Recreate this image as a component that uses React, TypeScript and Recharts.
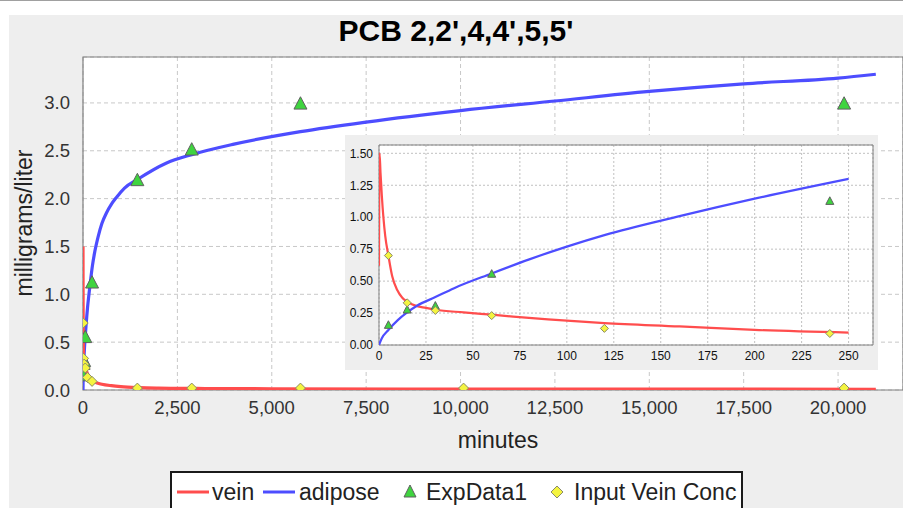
import React from "react";
import {
  CartesianGrid,
  ComposedChart,
  Line,
  ReferenceArea,
  Scatter,
  XAxis,
  YAxis,
} from "recharts";

// vein concentration (mg/L) over minutes
const veinEarlyT = [0, 0.3, 0.8, 1.5, 3.3, 5, 7, 9.7, 12.4, 15, 19, 25, 30, 45, 60, 90, 120, 160, 200, 250];
const veinEarlyV = [0.62, 1.5, 1.35, 1.17, 0.855, 0.7, 0.54, 0.43, 0.37, 0.34, 0.31, 0.29, 0.276, 0.255, 0.237, 0.2, 0.171, 0.145, 0.118, 0.097];
const veinLateT = [300, 400, 500, 750, 1000, 1500, 2000, 3000, 5000, 10000, 15000, 21000];
const veinLateV = [0.085, 0.07, 0.06, 0.045, 0.035, 0.025, 0.02, 0.016, 0.013, 0.01, 0.009, 0.008];

// adipose concentration
const adiposeEarlyT = [0, 1.5, 5, 10, 15, 20, 30, 40, 60, 80, 100, 120, 160, 200, 250];
const adiposeEarlyV = [0, 0.053, 0.118, 0.195, 0.255, 0.305, 0.375, 0.445, 0.56, 0.67, 0.77, 0.86, 1.008, 1.145, 1.3];
const adiposeLateT = [300, 400, 500, 620, 750, 880, 1100, 1440, 2200, 2880, 4000, 5760, 7500, 10000, 12500, 15000, 17500, 20000, 21000];
const adiposeLateV = [1.42, 1.6, 1.74, 1.85, 1.94, 2.01, 2.11, 2.2, 2.37, 2.46, 2.57, 2.7, 2.8, 2.92, 3.02, 3.12, 3.2, 3.26, 3.3];

// measured points
const expT = [5, 15, 30, 60, 240, 1440, 2880, 5760, 20160];
const expV = [0.16, 0.28, 0.31, 0.56, 1.13, 2.2, 2.52, 3.0, 3.0];
const inputT = [5, 15, 30, 60, 120, 240, 1440, 2880, 5760, 10080, 20160];
const inputV = [0.7, 0.33, 0.27, 0.23, 0.13, 0.09, 0.02, 0.02, 0.02, 0.02, 0.02];

const mainXTicks = [0, 2500, 5000, 7500, 10000, 12500, 15000, 17500, 20000];
const mainYTicks = [0, 0.5, 1.0, 1.5, 2.0, 2.5, 3.0];
const insetXTicks = [0, 25, 50, 75, 100, 125, 150, 175, 200, 225, 250];
const insetYTicks = [0, 0.25, 0.5, 0.75, 1.0, 1.25, 1.5];

const MAIN_X_MAX = 21720;
const MAIN_Y_MAX = 3.48;
const INSET_X_MAX = 263;
const INSET_Y_MAX = 1.565;

const zip = (ts: number[], vs: number[]) => ts.map((t, i) => ({ t, v: vs[i] }));

const veinAll = zip([...veinEarlyT, ...veinLateT], [...veinEarlyV, ...veinLateV]);
const adiposeAll = zip([...adiposeEarlyT, ...adiposeLateT], [...adiposeEarlyV, ...adiposeLateV]);
const veinEarly = zip(veinEarlyT, veinEarlyV);
const adiposeEarly = zip(adiposeEarlyT, adiposeEarlyV);
const expAll = zip(expT, expV);
const inputAll = zip(inputT, inputV);
const expEarly = expAll.filter((d) => d.t <= 250);
const inputEarly = inputAll.filter((d) => d.t <= 250);

const RED = "#ff4d4d";
const BLUE = "#4d4dff";
const FONT = "'Liberation Sans', Arial, sans-serif";

const triangle = (w: number) => (p: any) => {
  const { cx, cy } = p;
  const h = w * 0.95;
  return (
    <polygon
      points={`${cx},${cy - h / 2} ${cx + w / 2},${cy + h / 2} ${cx - w / 2},${cy + h / 2}`}
      fill="#3fd43f"
      stroke="#606060"
      strokeWidth={1}
    />
  );
};

const diamond = (w: number) => (p: any) => {
  const { cx, cy } = p;
  const r = w / 2;
  return (
    <polygon
      points={`${cx},${cy - r} ${cx + r},${cy} ${cx},${cy + r} ${cx - r},${cy}`}
      fill="#f4f440"
      stroke="#8a8a6a"
      strokeWidth={1}
    />
  );
};

function Inset() {
  return (
    <div style={{ position: "absolute", left: 345, top: 135, width: 533, height: 235, background: "#eeeeee" }}>
      <ComposedChart width={533} height={235} margin={{ top: 10, right: 5, bottom: 0, left: 0 }}>
        <CartesianGrid stroke="#c0c0c0" strokeDasharray="2 2" fill="#ffffff" />
        <XAxis
          dataKey="t"
          type="number"
          domain={[0, INSET_X_MAX]}
          ticks={insetXTicks}
          height={25}
          tickLine={false}
          axisLine={false}
          tickSize={2}
          tickMargin={4}
          tick={{ fontSize: 12, fill: "#111", fontFamily: FONT }}
          allowDataOverflow
        />
        <YAxis
          dataKey="v"
          type="number"
          domain={[0, INSET_Y_MAX]}
          ticks={insetYTicks}
          width={34}
          tickLine={false}
          axisLine={false}
          tickSize={2}
          tickMargin={4}
          tickFormatter={(v: number) => v.toFixed(2)}
          tick={{ fontSize: 12, fill: "#111", fontFamily: FONT }}
          allowDataOverflow
        />
        <Line data={veinEarly} dataKey="v" type="monotone" stroke={RED} strokeWidth={2.2} dot={false} isAnimationActive={false} />
        <Line data={adiposeEarly} dataKey="v" type="monotone" stroke={BLUE} strokeWidth={2.2} dot={false} isAnimationActive={false} />
        <Scatter data={expEarly} dataKey="v" shape={triangle(8)} isAnimationActive={false} />
        <Scatter data={inputEarly} dataKey="v" shape={diamond(8)} isAnimationActive={false} />
        <ReferenceArea x1={0} x2={INSET_X_MAX} y1={0} y2={INSET_Y_MAX} fill="none" stroke="#808080" strokeWidth={1} />
      </ComposedChart>
    </div>
  );
}

function LegendBox() {
  const txt = { position: "absolute", top: 5, lineHeight: "28px" } as const;
  return (
    <div
      style={{
        position: "absolute",
        left: 170,
        top: 471,
        width: 573,
        height: 44,
        border: "2px solid #1a1a1a",
        background: "#fff",
        boxSizing: "border-box",
        fontFamily: FONT,
        fontSize: 23,
        color: "#222",
      }}
    >
      <svg style={{ position: "absolute", left: 0, top: 0 }} width={569} height={40}>
        <line x1={5} y1={19} x2={37} y2={19} stroke={RED} strokeWidth={3} />
        <line x1={91} y1={19} x2={123} y2={19} stroke={BLUE} strokeWidth={3} />
        <polygon points="238,12 244,24 232,24" fill="#3fd43f" stroke="#606060" />
        <polygon points="385,13 391,19 385,25 379,19" fill="#f4f440" stroke="#8a8a6a" />
      </svg>
      <span style={{ ...txt, left: 40 }}>vein</span>
      <span style={{ ...txt, left: 127 }}>adipose</span>
      <span style={{ ...txt, left: 254 }}>ExpData1</span>
      <span style={{ ...txt, left: 402 }}>Input Vein Conc</span>
    </div>
  );
}

export default function App() {
  return (
    <div style={{ position: "relative", width: 903, height: 508, background: "#fff", overflow: "hidden", fontFamily: FONT }}>
      <style>{`body{margin:0}`}</style>
      <div style={{ position: "absolute", left: 0, top: 0, width: 903, height: 1, background: "#a0a0a0" }} />
      <div style={{ position: "absolute", left: 9, top: 15, width: 894, height: 493, background: "#eeeeee" }} />
      <div
        style={{
          position: "absolute",
          left: 9,
          width: 894,
          top: 13,
          textAlign: "center",
          fontSize: 30,
          fontWeight: "bold",
          color: "#000",
          lineHeight: "36px",
        }}
      >
        PCB 2,2',4,4',5,5'
      </div>
      <div style={{ position: "absolute", left: 0, top: 0 }}>
        <ComposedChart width={903} height={508} margin={{ top: 57, right: 0, bottom: 0, left: 9 }}>
          <CartesianGrid stroke="#c8c8c8" strokeDasharray="4 3" fill="#ffffff" />
          <XAxis
            dataKey="t"
            type="number"
            domain={[0, MAIN_X_MAX]}
            ticks={mainXTicks}
            height={118}
            tickLine={false}
            axisLine={false}
            tickSize={4}
            tickMargin={7}
            tickFormatter={(v: number) => v.toLocaleString("en-US")}
            tick={{ fontSize: 18.5, fill: "#333", fontFamily: FONT }}
            allowDataOverflow
          />
          <YAxis
            dataKey="v"
            type="number"
            domain={[0, MAIN_Y_MAX]}
            ticks={mainYTicks}
            width={74}
            tickLine={false}
            axisLine={false}
            tickSize={4}
            tickMargin={9}
            tickFormatter={(v: number) => v.toFixed(1)}
            tick={{ fontSize: 18.5, fill: "#333", fontFamily: FONT }}
            allowDataOverflow
          />
          <Line data={adiposeAll} dataKey="v" type="monotone" stroke={BLUE} strokeWidth={3.2} dot={false} isAnimationActive={false} />
          <Line data={veinAll} dataKey="v" type="monotone" stroke={RED} strokeWidth={3.2} dot={false} isAnimationActive={false} />
          <Scatter data={expAll} dataKey="v" shape={triangle(13)} isAnimationActive={false} />
          <Scatter data={inputAll} dataKey="v" shape={diamond(10)} isAnimationActive={false} />
          <ReferenceArea x1={0} x2={MAIN_X_MAX} y1={0} y2={MAIN_Y_MAX} fill="none" stroke="#808080" strokeWidth={1.2} />
        </ComposedChart>
      </div>
      <div
        style={{
          position: "absolute",
          left: 24,
          top: 223,
          transform: "translate(-50%, -50%) rotate(-90deg)",
          whiteSpace: "nowrap",
          fontSize: 23,
          color: "#222",
        }}
      >
        milligrams/liter
      </div>
      <div
        style={{
          position: "absolute",
          left: 498,
          top: 440,
          transform: "translate(-50%, -50%)",
          whiteSpace: "nowrap",
          fontSize: 23,
          color: "#222",
        }}
      >
        minutes
      </div>
      <Inset />
      <LegendBox />
    </div>
  );
}
